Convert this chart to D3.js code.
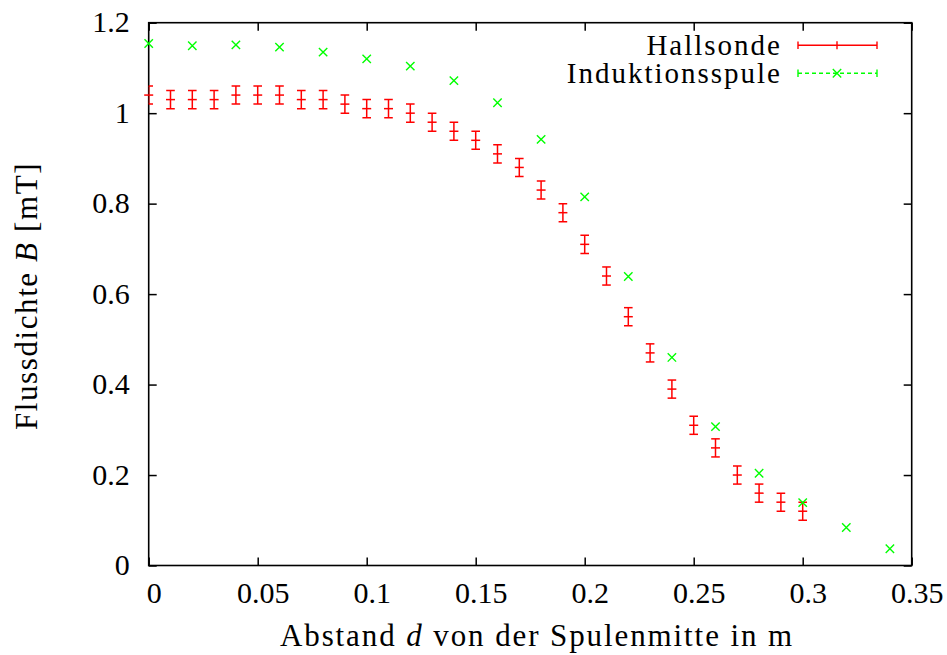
<!DOCTYPE html>
<html>
<head>
<meta charset="utf-8">
<script src="https://cdn.jsdelivr.net/npm/d3@7"></script>
</head>
<body style="margin:0">
<script>
// Hallsonde (mit Fehlerbalken)
const hallD = [0, 0.01, 0.02, 0.03, 0.04, 0.05, 0.06, 0.07, 0.08, 0.09, 0.10,
  0.11, 0.12, 0.13, 0.14, 0.15, 0.16, 0.17, 0.18, 0.19, 0.20,
  0.21, 0.22, 0.23, 0.24, 0.25, 0.26, 0.27, 0.28, 0.29, 0.30];
const hallB = [1.04, 1.03, 1.03, 1.03, 1.04, 1.04, 1.04, 1.03, 1.03, 1.02, 1.01,
  1.01, 1.00, 0.98, 0.96, 0.94, 0.91, 0.88, 0.83, 0.78, 0.71,
  0.64, 0.55, 0.47, 0.39, 0.31, 0.26, 0.20, 0.16, 0.14, 0.12];
const hallErr = 0.02;

// Induktionsspule
const spuleD = [0, 0.02, 0.04, 0.06, 0.08, 0.10, 0.12, 0.14, 0.16, 0.18,
  0.20, 0.22, 0.24, 0.26, 0.28, 0.30, 0.32, 0.34];
const spuleB = [1.154, 1.149, 1.151, 1.146, 1.135, 1.12, 1.104, 1.072, 1.023, 0.942,
  0.815, 0.639, 0.460, 0.307, 0.204, 0.139, 0.084, 0.037];

const xTicks = [0, 0.05, 0.1, 0.15, 0.2, 0.25, 0.3, 0.35];
const yTicks = [0, 0.2, 0.4, 0.6, 0.8, 1, 1.2];

const W = 947, H = 655;
const margin = {top: 22.7, right: 35.3, bottom: 89.5, left: 148.7};
const width = W - margin.left - margin.right;
const height = H - margin.top - margin.bottom;

const RED = "#ff0000", GREEN = "#00ff00";
const FONT = "Liberation Serif";

const svg = d3.select("body")
  .append("svg")
  .attr("width", W)
  .attr("height", H);

const g = svg.append("g")
  .attr("transform", `translate(${margin.left},${margin.top})`);

const x = d3.scaleLinear().domain([0, 0.35]).range([0, width]);
const y = d3.scaleLinear().domain([0, 1.2]).range([height, 0]);

// ticks (inward, mirrored)
const tickLen = 8;
const tickFmt = d => String(+d.toFixed(2));

g.append("g")
  .attr("transform", `translate(0,${height})`)
  .call(d3.axisBottom(x).tickValues(xTicks).tickSize(-tickLen).tickPadding(17).tickFormat(tickFmt))
  .call(a => a.select(".domain").remove())
  .call(a => a.selectAll("text").attr("dx", 5).attr("dy", "0.68em"));

g.append("g")
  .call(d3.axisTop(x).tickValues(xTicks).tickSize(-tickLen).tickFormat(""))
  .call(a => a.select(".domain").remove());

g.append("g")
  .call(d3.axisLeft(y).tickValues(yTicks).tickSize(-tickLen).tickPadding(19).tickFormat(tickFmt))
  .call(a => a.select(".domain").remove())
  .call(a => a.selectAll("text").attr("dy", "0.3em"));

g.append("g")
  .attr("transform", `translate(${width},0)`)
  .call(d3.axisRight(y).tickValues(yTicks).tickSize(-tickLen).tickFormat(""))
  .call(a => a.select(".domain").remove());

g.selectAll(".tick line").attr("stroke", "#000").attr("stroke-width", 1.5);
g.selectAll(".tick text").attr("font-size", 30).attr("fill", "#000");

// frame
g.append("rect")
  .attr("width", width)
  .attr("height", height)
  .attr("fill", "none")
  .attr("stroke", "#000")
  .attr("stroke-width", 1.6);

svg.append("clipPath").attr("id", "plotclip")
  .append("rect").attr("width", width).attr("height", height);

const cap = 4.3;

// Hallsonde error bars
const hall = hallD.map((d, i) => ({d: d, b: hallB[i]}));
const bars = g.append("g")
  .attr("clip-path", "url(#plotclip)")
  .attr("stroke", RED)
  .attr("stroke-width", 1.5)
  .selectAll("g")
  .data(hall)
  .enter()
  .append("g");

bars.append("line")
  .attr("x1", p => x(p.d)).attr("x2", p => x(p.d))
  .attr("y1", p => y(p.b - hallErr)).attr("y2", p => y(p.b + hallErr));
bars.append("line")
  .attr("x1", p => x(p.d) - cap).attr("x2", p => x(p.d) + cap)
  .attr("y1", p => y(p.b + hallErr)).attr("y2", p => y(p.b + hallErr));
bars.append("line")
  .attr("x1", p => x(p.d) - cap).attr("x2", p => x(p.d) + cap)
  .attr("y1", p => y(p.b - hallErr)).attr("y2", p => y(p.b - hallErr));

// "+" Marker
g.append("g")
  .attr("stroke", RED)
  .attr("stroke-width", 1.5)
  .selectAll("line")
  .data(hall)
  .enter()
  .append("line")
  .attr("x1", p => x(p.d) - 4.5).attr("x2", p => x(p.d) + 4.5)
  .attr("y1", p => y(p.b)).attr("y2", p => y(p.b));

// Induktionsspule "x" Marker
const xs = 4.2;
const crossPath = (cx, cy) =>
  `M${cx - xs},${cy - xs}L${cx + xs},${cy + xs}M${cx - xs},${cy + xs}L${cx + xs},${cy - xs}`;

g.append("g")
  .attr("stroke", GREEN)
  .attr("stroke-width", 1.4)
  .attr("fill", "none")
  .selectAll("path")
  .data(spuleD.map((d, i) => ({d: d, b: spuleB[i]})))
  .enter()
  .append("path")
  .attr("d", p => crossPath(x(p.d), y(p.b)));

// legend
const legend = svg.append("g");
const lx0 = 798, lx1 = 877, lxm = 837;
const legendRows = [
  {label: "Hallsonde", y: 45.3, color: RED, dash: null, marker: "plus"},
  {label: "Induktionsspule", y: 73.3, color: GREEN, dash: "4,3", marker: "cross"}
];

legendRows.forEach(r => {
  legend.append("text")
    .attr("x", 782)
    .attr("y", r.y + 10)
    .attr("text-anchor", "end")
    .attr("font-size", 29)
    .attr("letter-spacing", 2)
    .text(r.label);
  const lg = legend.append("g").attr("stroke", r.color).attr("stroke-width", 1.4).attr("fill", "none");
  lg.append("line").attr("x1", lx0).attr("x2", lx1).attr("y1", r.y).attr("y2", r.y)
    .attr("stroke-dasharray", r.dash);
  [lx0, lx1].forEach(cx => lg.append("line")
    .attr("x1", cx).attr("x2", cx).attr("y1", r.y - 3.8).attr("y2", r.y + 3.8));
  if (r.marker === "plus") {
    lg.append("line").attr("x1", lxm).attr("x2", lxm).attr("y1", r.y - 4).attr("y2", r.y + 4);
  } else {
    lg.append("path").attr("d", crossPath(lxm, r.y));
  }
});

// axis labels
const xl = svg.append("text")
  .attr("x", 537)
  .attr("y", 646)
  .attr("text-anchor", "middle")
  .attr("font-size", 31)
  .attr("letter-spacing", 1.9);
xl.append("tspan").text("Abstand ");
xl.append("tspan").attr("font-style", "italic").text("d");
xl.append("tspan").text(" von der Spulenmitte in m");

const yl = svg.append("text")
  .attr("transform", "translate(37,296) rotate(-90)")
  .attr("text-anchor", "middle")
  .attr("font-size", 31)
  .attr("letter-spacing", 1.6);
yl.append("tspan").text("Flussdichte ");
yl.append("tspan").attr("font-style", "italic").text("B");
yl.append("tspan").text(" [mT]");

// serif font on every text
svg.selectAll("g").attr("font-family", null);
svg.selectAll("text").attr("font-family", FONT);
</script>
</body>
</html>
